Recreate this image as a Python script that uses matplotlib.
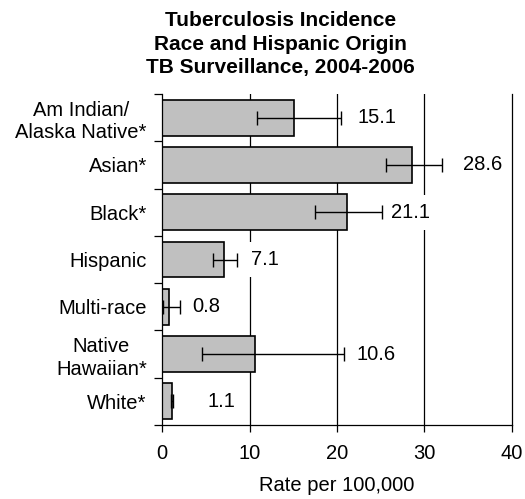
import matplotlib.pyplot as plt
import numpy as np

plt.rcParams['font.family'] = ['Liberation Sans', 'DejaVu Sans']

categories = ['Am Indian/\nAlaska Native*', 'Asian*', 'Black*', 'Hispanic',
              'Multi-race', 'Native\nHawaiian*', 'White*']
rates = [15.1, 28.6, 21.1, 7.1, 0.8, 10.6, 1.1]
ci_low = [10.8, 25.6, 17.5, 5.8, 0.1, 4.6, 1.0]
ci_high = [20.5, 32.0, 25.2, 8.6, 2.0, 20.8, 1.3]
labels = ['15.1', '28.6', '21.1', '7.1', '0.8', '10.6', '1.1']

# where the value labels start (data units)
label_x = [22.4, 34.4, 26.2, 10.2, 3.4, 22.2, 5.2]

fig = plt.figure(figsize=(5.25, 4.99), dpi=100)
ax = fig.add_axes([0.3086, 0.1483, 0.6666, 0.6633])

y = np.arange(len(categories))
rates_arr = np.array(rates)
xerr = [rates_arr - np.array(ci_low), np.array(ci_high) - rates_arr]

ax.barh(y, rates, height=0.76, color='#C0C0C0', edgecolor='black',
        linewidth=1.2, zorder=2)
ax.errorbar(rates, y, xerr=xerr, fmt='none', ecolor='black', elinewidth=1.0,
            capsize=5, capthick=1.0, zorder=3)

for xi, yi, t in zip(label_x, y, labels):
    ax.text(xi, yi, t, ha='left', va='center', fontsize=14.5, zorder=1.5,
            bbox=dict(boxstyle='square,pad=0.4', fc='white', ec='none'))

for gx in [10, 20, 30]:
    ax.axvline(gx, color='black', linewidth=0.9, zorder=0)

ax.set_xlim(0, 40)
ax.set_ylim(len(categories) - 0.5, -0.5)
ax.set_xticks([0, 10, 20, 30, 40])
ax.tick_params(axis='x', labelsize=14.5, length=5, width=0.9, pad=9)

ax.set_yticks(y)
ax.set_yticklabels(categories, multialignment='center', linespacing=1.25)
ax.tick_params(axis='y', which='major', length=0, labelsize=14.5, pad=11)
ax.set_yticks(np.arange(len(categories) + 1) - 0.5, minor=True)
ax.tick_params(axis='y', which='minor', length=5.8, width=0.9)

ax.spines['top'].set_visible(False)
for s in ['left', 'bottom', 'right']:
    ax.spines[s].set_linewidth(0.9)

ax.set_xlabel('Rate per 100,000', fontsize=14.5, labelpad=9)

fig.text(0.535, 1 - 11 / 499,
         'Tuberculosis Incidence\nRace and Hispanic Origin\nTB Surveillance, 2004-2006',
         ha='center', va='top', fontsize=15, fontweight='bold', linespacing=1.3)

fig.savefig('out.png', dpi=100)
